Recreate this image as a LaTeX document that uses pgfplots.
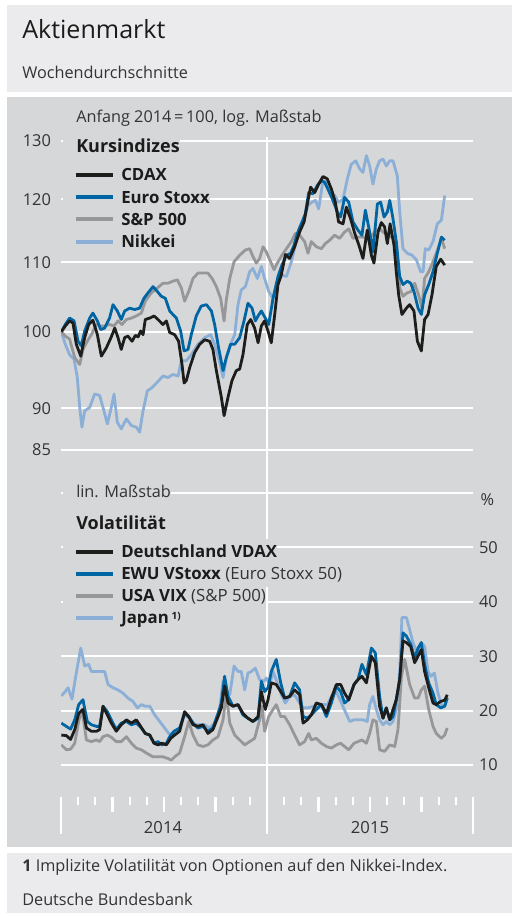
\documentclass[border=0pt]{standalone}
\usepackage{fontspec}
\setmainfont{Open Sans}
\usepackage{pgfplots}
\usepackage{pgfplotstable}
\pgfplotsset{compat=1.18}
\definecolor{panel}{RGB}{214,215,217}
\definecolor{titlebg}{RGB}{235,235,237}
\definecolor{cblack}{RGB}{29,29,27}
\definecolor{cblue}{RGB}{0,101,163}
\definecolor{cgray}{RGB}{151,151,153}
\definecolor{clight}{RGB}{140,175,215}
\definecolor{txt}{RGB}{51,51,51}
\definecolor{head}{RGB}{28,28,28}

% ---------------- Kursindizes (Anfang 2014 = 100), x in Monaten ab Jan 2014
\pgfplotstableread{
m v
0.02 100.0
0.25 100.8
0.50 101.5
0.70 101.2
0.89 98.3
1.15 96.7
1.38 99.2
1.61 101.0
1.86 101.6
2.12 99.6
2.35 96.7
2.64 97.8
2.93 99.3
3.13 100.5
3.32 99.2
3.51 97.6
3.71 99.2
3.90 99.4
4.14 98.7
4.33 99.5
4.49 99.3
4.64 100.1
4.78 99.6
4.91 101.7
5.17 101.9
5.42 102.2
5.65 101.7
5.94 101.0
6.14 101.5
6.33 99.9
6.62 99.6
6.85 98.7
7.05 95.6
7.17 93.2
7.30 93.5
7.50 95.2
7.79 97.2
8.08 98.3
8.37 98.9
8.66 98.7
8.85 97.6
9.05 94.8
9.34 91.4
9.50 89.1
9.73 91.4
9.96 93.5
10.21 94.8
10.41 95.0
10.60 96.9
10.85 101.0
11.05 101.7
11.28 100.5
11.48 98.5
11.67 100.8
11.86 101.5
12.06 100.1
12.25 98.5
12.45 102.4
12.64 106.7
12.83 108.1
13.07 111.2
13.32 110.6
13.61 112.4
13.90 114.7
14.16 116.3
14.39 119.8
14.54 122.0
14.78 121.1
15.01 122.5
15.26 123.8
15.51 123.4
15.75 121.7
15.98 119.5
16.17 116.3
16.43 116.0
16.62 118.7
16.87 116.8
17.11 114.5
17.36 112.6
17.59 110.6
17.84 115.0
18.08 111.1
18.23 109.9
18.47 114.7
18.66 116.2
18.85 115.5
19.01 112.9
19.17 116.0
19.40 112.6
19.53 108.6
19.67 105.2
19.86 102.4
20.12 103.3
20.31 103.8
20.56 102.9
20.76 98.7
20.99 97.4
21.18 101.7
21.38 102.4
21.61 105.2
21.86 109.4
22.12 110.5
22.35 109.6
}\tcdax

\pgfplotstableread{
m v
0.02 100.0
0.25 101.0
0.50 101.9
0.76 101.5
0.99 98.7
1.18 98.1
1.38 100.1
1.67 101.9
1.86 102.6
2.12 101.5
2.31 100.3
2.54 100.5
2.83 101.9
3.03 103.8
3.28 102.9
3.51 101.7
3.71 102.9
4.00 103.3
4.29 103.1
4.58 103.3
4.83 104.7
5.07 105.5
5.36 106.4
5.61 105.7
5.84 105.0
6.08 104.7
6.33 102.9
6.52 102.4
6.72 101.9
6.97 100.1
7.17 97.4
7.40 97.6
7.59 99.6
7.88 102.2
8.17 103.6
8.47 103.8
8.76 102.9
8.95 101.0
9.18 97.8
9.44 94.8
9.63 96.5
9.88 98.3
10.12 98.3
10.41 99.2
10.66 101.5
10.89 104.0
11.13 103.3
11.32 101.5
11.48 102.2
11.67 102.9
11.90 101.9
12.10 101.0
12.35 104.7
12.64 107.9
12.87 109.6
13.13 111.1
13.38 111.4
13.57 112.6
13.77 114.5
14.00 116.0
14.23 117.6
14.43 121.1
14.68 120.9
14.93 122.3
15.17 123.1
15.36 122.8
15.59 121.4
15.84 119.8
16.10 117.9
16.29 117.1
16.52 120.3
16.76 119.5
17.01 116.3
17.30 115.0
17.53 114.2
17.73 118.2
17.98 114.7
18.17 111.6
18.43 119.2
18.62 119.5
18.82 117.1
19.01 117.9
19.15 119.8
19.34 116.8
19.53 113.2
19.73 107.9
19.92 106.7
20.17 107.2
20.37 106.9
20.56 105.7
20.80 103.3
20.99 102.4
21.18 105.2
21.42 106.7
21.67 108.6
21.92 111.4
22.16 113.9
22.35 113.4
}\teuro

\pgfplotstableread{
m v
0.02 100.0
0.25 99.4
0.50 99.0
0.80 96.5
1.09 95.6
1.28 97.6
1.53 98.7
1.77 99.6
2.06 101.0
2.31 100.8
2.54 100.8
2.83 101.0
3.09 100.8
3.32 101.5
3.55 101.0
3.81 101.7
4.10 101.9
4.39 102.2
4.68 102.6
4.91 104.3
5.26 105.5
5.61 106.2
5.94 106.9
6.23 106.9
6.52 107.2
6.78 107.4
7.01 106.2
7.20 104.3
7.44 105.7
7.69 107.6
7.98 108.4
8.27 108.4
8.56 108.4
8.80 107.6
9.05 106.4
9.30 104.7
9.50 101.5
9.63 104.5
9.83 107.6
10.08 110.1
10.41 111.1
10.74 111.9
10.99 112.1
11.18 110.9
11.38 109.9
11.57 110.6
11.77 112.4
11.96 111.6
12.16 110.4
12.41 108.9
12.60 109.9
12.87 111.1
13.13 112.1
13.42 113.2
13.65 114.5
13.90 114.2
14.19 113.2
14.39 111.4
14.58 113.2
14.87 112.4
15.17 112.1
15.40 112.9
15.65 113.4
15.94 114.2
16.23 113.7
16.52 114.7
16.76 115.2
17.01 113.7
17.30 113.9
17.59 113.9
17.88 113.7
18.12 114.2
18.37 115.0
18.56 115.2
18.76 114.7
19.05 114.2
19.24 113.9
19.53 113.2
19.73 106.2
19.92 105.0
20.17 105.5
20.41 105.7
20.60 106.9
20.83 105.2
21.03 103.3
21.18 107.6
21.42 108.6
21.67 110.1
21.96 112.1
22.16 113.7
22.35 112.1
}\tsp

\pgfplotstableread{
m v
0.02 100.0
0.25 98.3
0.50 96.9
0.76 96.3
0.95 93.9
1.09 90.1
1.22 87.7
1.38 89.7
1.67 90.1
1.96 91.8
2.25 91.6
2.45 90.1
2.70 88.1
2.93 90.1
3.09 91.8
3.28 88.3
3.51 87.5
3.81 88.7
4.10 87.9
4.39 87.7
4.58 87.1
4.78 89.7
5.03 92.2
5.30 92.6
5.61 93.3
5.94 94.1
6.23 93.9
6.52 94.3
6.82 94.1
7.01 96.1
7.30 96.1
7.59 96.9
7.98 98.3
8.37 99.2
8.72 99.6
8.95 98.3
9.24 95.9
9.44 93.9
9.63 96.5
9.88 98.3
10.12 99.6
10.31 103.8
10.50 105.9
10.74 106.4
10.99 108.6
11.18 109.1
11.44 107.6
11.67 109.4
11.86 107.6
12.10 105.7
12.35 104.7
12.60 106.7
12.87 108.1
13.13 107.9
13.42 110.1
13.65 112.6
13.90 115.5
14.16 116.8
14.39 119.0
14.62 119.5
14.82 119.8
15.01 118.4
15.26 123.1
15.46 122.8
15.71 121.1
15.94 120.6
16.17 119.5
16.43 120.0
16.68 123.4
16.91 125.9
17.17 126.5
17.40 125.1
17.59 124.5
17.79 127.4
17.98 125.6
18.17 122.5
18.37 125.1
18.56 126.5
18.76 126.8
18.95 125.6
19.15 126.5
19.34 126.5
19.59 123.9
19.73 117.9
19.92 112.1
20.17 111.4
20.45 111.1
20.70 110.4
20.95 108.6
21.09 108.6
21.22 112.1
21.42 111.9
21.67 113.2
21.92 116.0
22.16 116.6
22.35 120.6
}\tnikkei

% ---------------- Volatilitaet in %
\pgfplotstableread{
m v
0.02 15.5
0.31 15.4
0.56 14.7
0.80 16.5
1.03 19.5
1.28 20.2
1.48 16.8
1.77 16.2
2.06 16.2
2.25 16.5
2.45 20.8
2.70 19.2
2.93 17.7
3.22 16.2
3.51 17.4
3.81 18.3
4.10 17.7
4.39 18.3
4.64 17.1
4.91 15.8
5.17 15.5
5.42 14.0
5.65 13.7
5.88 14.0
6.14 13.7
6.39 14.9
6.62 15.5
6.91 16.2
7.20 19.8
7.44 18.9
7.69 17.4
7.98 17.1
8.27 17.4
8.56 15.8
8.85 16.5
9.15 18.9
9.34 20.5
9.53 24.5
9.73 21.4
10.02 20.8
10.31 21.1
10.60 19.5
10.89 18.6
11.18 18.0
11.48 18.9
11.67 23.5
11.90 20.2
12.06 22.0
12.25 25.1
12.54 24.8
12.80 23.5
13.03 22.3
13.32 22.6
13.61 23.8
13.90 22.9
14.10 17.7
14.35 18.3
14.58 19.2
14.87 21.4
15.17 21.1
15.46 19.5
15.75 22.3
16.04 24.8
16.29 24.8
16.52 23.2
16.76 22.0
17.07 24.8
17.30 25.7
17.53 26.3
17.79 25.1
18.08 30.0
18.31 28.8
18.56 20.8
18.76 18.6
18.95 20.5
19.15 18.3
19.34 20.2
19.53 22.0
19.73 25.7
19.92 32.8
20.12 32.5
20.37 31.8
20.60 28.8
20.80 30.0
20.99 31.2
21.18 27.2
21.42 24.2
21.67 21.4
21.86 21.1
22.12 21.7
22.35 21.9
22.50 22.9
}\tvdax

\pgfplotstableread{
m v
0.02 17.7
0.31 17.1
0.56 16.6
0.80 18.3
1.03 21.1
1.28 22.0
1.53 18.0
1.77 17.4
2.06 17.1
2.25 17.1
2.45 20.8
2.70 19.8
2.93 18.3
3.22 16.5
3.51 17.7
3.81 18.0
4.10 17.4
4.39 17.7
4.68 16.8
4.91 15.8
5.17 15.5
5.42 14.0
5.65 14.3
5.88 13.7
6.14 14.0
6.33 15.2
6.58 16.2
6.91 16.8
7.20 19.5
7.44 18.9
7.69 17.7
7.98 16.8
8.27 17.1
8.56 16.2
8.85 16.8
9.15 19.5
9.34 21.4
9.53 26.3
9.73 22.6
10.02 20.8
10.31 21.1
10.60 19.2
10.89 18.6
11.18 18.0
11.48 18.6
11.67 25.4
11.86 23.5
12.06 24.2
12.25 27.2
12.54 29.4
12.80 25.1
13.03 22.3
13.32 22.6
13.61 25.1
13.90 23.8
14.10 18.9
14.35 18.6
14.58 19.2
14.87 20.2
15.17 21.1
15.46 18.9
15.75 21.4
16.04 24.5
16.29 23.5
16.52 21.4
16.76 22.0
17.07 24.8
17.30 25.7
17.53 28.5
17.79 26.6
18.08 31.5
18.31 30.6
18.56 22.6
18.76 18.6
18.95 20.5
19.15 18.3
19.34 18.9
19.53 22.0
19.73 25.7
19.92 34.3
20.12 33.7
20.37 32.2
20.60 29.7
20.80 31.5
20.99 32.5
21.18 28.5
21.42 25.1
21.67 23.2
21.86 21.1
22.12 20.5
22.35 20.8
22.50 22.3
}\tvstoxx

\pgfplotstableread{
m v
0.02 13.7
0.31 12.8
0.56 12.9
0.80 14.0
1.03 18.0
1.22 20.2
1.48 14.6
1.77 14.3
2.06 14.6
2.25 14.3
2.45 15.2
2.70 15.5
2.93 15.1
3.22 14.3
3.51 14.3
3.81 15.2
4.10 14.0
4.39 13.1
4.68 12.8
4.97 12.2
5.36 11.5
5.65 11.5
5.94 11.5
6.23 11.2
6.43 10.9
6.62 11.5
6.91 12.2
7.20 15.2
7.44 18.0
7.69 15.5
7.98 13.7
8.27 13.4
8.56 13.7
8.85 14.6
9.15 15.2
9.44 18.3
9.63 23.2
9.83 17.7
10.12 15.5
10.41 14.6
10.70 13.7
10.99 14.3
11.28 14.9
11.57 18.3
11.71 20.8
11.86 16.2
12.10 18.9
12.35 20.2
12.54 21.1
12.80 18.9
13.03 18.9
13.32 17.4
13.61 15.5
13.90 13.7
14.19 14.3
14.43 15.8
14.58 14.6
14.87 14.9
15.17 14.0
15.46 13.4
15.75 13.1
16.04 13.7
16.29 14.0
16.52 13.4
16.76 12.8
17.07 14.0
17.30 14.3
17.53 14.6
17.79 14.0
17.98 15.8
18.17 18.3
18.37 18.0
18.56 12.8
18.85 12.5
19.15 13.7
19.44 13.4
19.63 16.5
19.83 26.3
20.02 29.4
20.31 24.8
20.60 22.3
20.80 22.3
20.99 23.8
21.18 24.5
21.42 20.2
21.67 17.1
21.86 15.8
22.16 14.9
22.35 15.5
22.50 16.8
}\tvix

\pgfplotstableread{
m v
0.02 22.7
0.25 23.5
0.41 24.2
0.64 22.1
0.89 26.9
1.15 31.5
1.38 28.2
1.61 28.5
1.77 27.2
2.06 27.2
2.35 27.2
2.54 27.2
2.74 24.8
3.03 24.2
3.32 23.8
3.61 23.2
3.90 22.3
4.19 21.7
4.45 20.5
4.68 21.1
4.91 20.8
5.17 20.8
5.46 19.2
5.75 18.0
6.04 16.8
6.27 15.8
6.62 15.5
6.91 16.5
7.20 19.2
7.50 18.6
7.79 17.4
8.08 17.4
8.37 17.4
8.66 16.8
8.95 17.7
9.24 20.2
9.44 25.4
9.63 23.8
9.83 22.9
10.08 28.2
10.31 27.2
10.50 27.2
10.70 23.8
10.89 26.9
11.09 27.2
11.32 27.8
11.57 25.7
11.83 25.4
11.96 26.0
12.16 24.8
12.35 27.2
12.64 24.8
12.83 22.9
13.07 21.4
13.32 22.6
13.61 22.9
13.84 21.7
14.10 20.5
14.39 20.5
14.68 20.8
14.97 20.8
15.26 21.1
15.51 21.1
15.75 22.6
16.04 23.5
16.29 21.7
16.56 19.8
16.82 18.0
17.07 18.3
17.30 18.3
17.59 18.3
17.84 18.0
17.98 21.1
18.17 22.6
18.37 20.2
18.56 18.3
18.76 17.4
18.95 18.0
19.15 17.4
19.34 18.0
19.53 20.2
19.73 26.9
19.86 37.1
20.12 37.1
20.31 34.9
20.50 32.5
20.76 30.6
20.99 32.5
21.18 31.8
21.38 27.2
21.55 26.3
21.75 26.9
21.96 23.2
22.16 21.1
22.35 20.8
22.50 22.3
}\tjapan

\newcommand{\legrow}[1]{\node[anchor=west, fill=panel, inner xsep=0pt, inner ysep=5pt,
  text height=9pt, text depth=0pt, font=\fontsize{12.6}{14}\selectfont\bfseries, text=head]
  at (63,#1)}
\begin{document}
\begin{tikzpicture}[x=0.75pt,y=0.75pt]
% backgrounds
\fill[white] (0,0) rectangle (512,916);
\fill[titlebg] (7,824) rectangle (512,911);
\fill[panel] (7,69) rectangle (512,819);
\fill[titlebg] (7,3) rectangle (512,63);
% header text
\node[anchor=base west, inner sep=0, font=\fontsize{18.8}{21}\selectfont, text=head] at (22,877) {Aktienmarkt};
\node[anchor=base west, inner sep=0, font=\fontsize{12.2}{14}\selectfont, text=txt] at (22,837) {Wochendurchschnitte};
\node[anchor=base west, inner sep=0, font=\fontsize{12.2}{14}\selectfont, text=txt] at (76,793) {Anfang 2014\,=\,100, log. Maßstab};
% vertical year line
\draw[white, line width=1.5pt] (267,779) -- (267,82);
% x ticks
\foreach \m in {1,2,4,5,7,8,10,11,13,14,16,17,19,20,22,23}
  \draw[white, line width=1.6pt] ({61+17.167*\m},119) -- ({61+17.167*\m},111);
\foreach \m in {3,6,9,15,18,21}
  \draw[white, line width=1.6pt] ({61+17.167*\m},119) -- ({61+17.167*\m},104);
\foreach \m in {0,24}
  \draw[white, line width=1.6pt] ({61+17.167*\m},119) -- ({61+17.167*\m},82);
\node[font=\fontsize{12.5}{14}\selectfont, text=txt] at (163,88) {2014};
\node[font=\fontsize{12.5}{14}\selectfont, text=txt] at (370,88) {2015};

\coordinate (U) at (61,466);
\coordinate (L) at (61,151);
% ---------- upper grid axis
\begin{axis}[at={(U)}, anchor=south west, scale only axis,
  width=309pt, height=231.75pt, xmin=0, xmax=24, ymode=log, ymin=85, ymax=130,
  axis line style={draw=none}, xtick=\empty,
  ytick={85,90,100,110,120,130}, yticklabels={85,90,100,110,120,130},
  ymajorgrids, major grid style={white, line width=1.5pt}, major tick length=0pt,
  yticklabel style={font=\fontsize{12.3}{14}\selectfont, text=txt, xshift=-4pt}]
\end{axis}
% ---------- lower grid axis
\begin{axis}[at={(L)}, anchor=south west, scale only axis,
  width=309pt, height=204pt, xmin=0, xmax=24, ymin=10, ymax=60,
  axis line style={draw=none}, xtick=\empty,
  ytick={10,20,30,40,50,60}, yticklabels={10,20,30,40,50,{}}, yticklabel pos=right,
  ymajorgrids, major grid style={white, line width=1.5pt}, major tick length=0pt,
  yticklabel style={font=\fontsize{12.3}{14}\selectfont, text=txt, xshift=1pt}]
\end{axis}
\node[anchor=west, font=\fontsize{12.3}{14}\selectfont, text=txt] at (476,416) {\%};
% ---------- legends upper
\node[anchor=west, fill=panel, inner xsep=0pt, inner ysep=4pt, text height=10pt, text depth=0pt,
  font=\fontsize{13.5}{15}\selectfont\bfseries, text=head] at (63,770) {\hspace{9.75pt}Kursindizes\hspace{7pt}};
\legrow{741} {\hspace{43.5pt}CDAX\hspace{8pt}};
\legrow{718.5} {\hspace{43.5pt}Euro Stoxx\hspace{8pt}};
\legrow{696.5} {\hspace{43.5pt}S\&P 500\hspace{8pt}};
\legrow{674} {\hspace{43.5pt}Nikkei\hspace{8pt}};
\draw[cblack, line width=3pt] (76,741) -- (113,741);
\draw[cblue, line width=3pt] (76,718.5) -- (113,718.5);
\draw[cgray, line width=3pt] (76,696.5) -- (113,696.5);
\draw[clight, line width=3pt] (76,674) -- (113,674);
% ---------- legends lower
\node[anchor=west, fill=panel, inner xsep=0pt, inner ysep=4pt, text height=9pt, text depth=2pt,
  font=\fontsize{12.2}{14}\selectfont, text=txt] at (63,423) {\hspace{9.75pt}lin. Maßstab\hspace{8pt}};
\node[anchor=west, fill=panel, inner xsep=0pt, inner ysep=4pt, text height=10pt, text depth=0pt,
  font=\fontsize{13.5}{15}\selectfont\bfseries, text=head] at (63,393) {\hspace{9.75pt}Volatilität\hspace{7pt}};
\legrow{364} {\hspace{43.5pt}Deutschland VDAX\hspace{9pt}};
\legrow{342} {\hspace{43.5pt}EWU VStoxx \mdseries\color{txt}(Euro Stoxx 50)\hspace{9pt}};
\legrow{320} {\hspace{43.5pt}USA VIX \mdseries\color{txt}(S\&P 500)\hspace{9pt}};
\legrow{298} {\hspace{43.5pt}Japan\,\raisebox{0.5ex}{\fontsize{7.5}{8}\selectfont 1)}\hspace{9pt}};
\draw[cblack, line width=3pt] (76,364) -- (113,364);
\draw[cblue, line width=3pt] (76,342) -- (113,342);
\draw[cgray, line width=3pt] (76,320) -- (113,320);
\draw[clight, line width=3pt] (76,298) -- (113,298);
% ---------- upper data
\begin{axis}[at={(U)}, anchor=south west, scale only axis,
  width=309pt, height=231.75pt, xmin=0, xmax=24, ymode=log, ymin=85, ymax=130,
  hide axis, every axis plot/.append style={line width=2.1pt, line join=round, no markers}]
\addplot[clight] table[x=m,y=v] {\tnikkei};
\addplot[cgray] table[x=m,y=v] {\tsp};
\addplot[cblue] table[x=m,y=v] {\teuro};
\addplot[cblack] table[x=m,y=v] {\tcdax};
\end{axis}
% ---------- lower data
\begin{axis}[at={(L)}, anchor=south west, scale only axis,
  width=309pt, height=204pt, xmin=0, xmax=24, ymin=10, ymax=60,
  hide axis, every axis plot/.append style={line width=2.1pt, line join=round, no markers}]
\addplot[clight] table[x=m,y=v] {\tjapan};
\addplot[cgray] table[x=m,y=v] {\tvix};
\addplot[cblue] table[x=m,y=v] {\tvstoxx};
\addplot[cblack] table[x=m,y=v] {\tvdax};
\end{axis}
% footer
\node[anchor=base west, inner sep=0, font=\fontsize{12.2}{14}\selectfont, text=txt] at (22,44) {\textbf{1} Implizite Volatilität von Optionen auf den Nikkei-Index.};
\node[anchor=base west, inner sep=0, font=\fontsize{12.2}{14}\selectfont, text=txt] at (22,11) {Deutsche Bundesbank};
\end{tikzpicture}
\end{document}
